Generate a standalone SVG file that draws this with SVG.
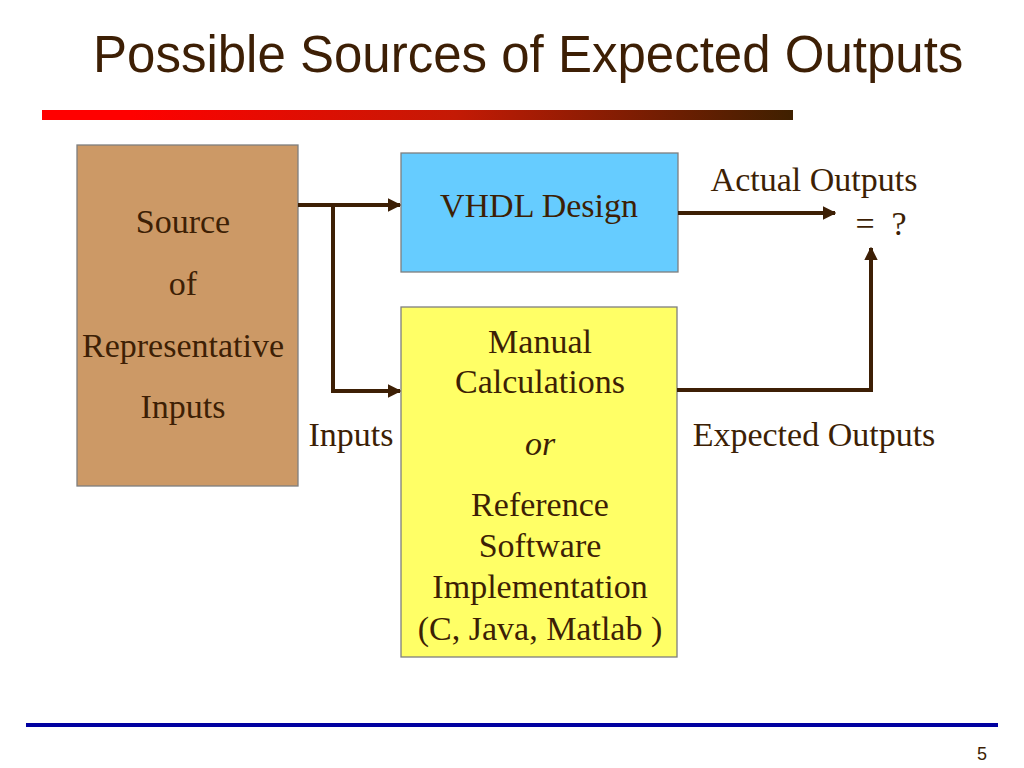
<svg xmlns="http://www.w3.org/2000/svg" width="1024" height="768" viewBox="0 0 1024 768">
<defs>
<linearGradient id="bar" x1="0" y1="0" x2="1" y2="0">
<stop offset="0" stop-color="#ff0000"/>
<stop offset="0.12" stop-color="#ff0000"/>
<stop offset="0.55" stop-color="#c41a05"/>
<stop offset="1" stop-color="#3f2000"/>
</linearGradient>
<marker id="ah" viewBox="0 0 10 10" refX="9" refY="5" markerWidth="3.4" markerHeight="3.4" orient="auto" markerUnits="strokeWidth">
<path d="M0,0 L10,5 L0,10 z" fill="#3d1f05"/>
</marker>
<style>
.t{font-family:"Liberation Serif","Times New Roman",serif;font-size:34px;fill:#3d1f05;text-anchor:middle}
.box{stroke:#7f7f7f;stroke-width:1.3}
.c{fill:none;stroke:#3d1f05;stroke-width:4}
</style>
</defs>
<rect width="1024" height="768" fill="#ffffff"/>
<text x="93" y="72" style="font-family:'Liberation Sans',Arial,sans-serif;font-size:51px;fill:#3d1f05">Possible Sources of Expected Outputs</text>
<rect x="42" y="110" width="751" height="10" fill="url(#bar)"/>
<rect x="26" y="723" width="972" height="4" fill="#0000a0"/>
<text x="987" y="760" style="font-family:'Liberation Sans',Arial,sans-serif;font-size:18px;fill:#3d1f05;text-anchor:end">5</text>

<g id="source">
<rect class="box" x="77" y="145" width="221" height="341" fill="#cc9966"/>
<text class="t" x="183" y="233">Source</text>
<text class="t" x="183" y="295">of</text>
<text class="t" x="183" y="357">Representative</text>
<text class="t" x="183" y="418">Inputs</text>
</g>
<g id="vhdl">
<rect class="box" x="401" y="153" width="277" height="119" fill="#66ccff"/>
<text class="t" x="539" y="217">VHDL Design</text>
</g>
<g id="reference">
<rect class="box" x="401" y="307" width="276" height="350" fill="#ffff66"/>
<text class="t" x="540" y="353">Manual</text>
<text class="t" x="540" y="393">Calculations</text>
<text class="t" x="540" y="455" font-style="italic">or</text>
<text class="t" x="540" y="516">Reference</text>
<text class="t" x="540" y="557">Software</text>
<text class="t" x="540" y="598">Implementation</text>
<text class="t" x="540" y="640">(C, Java, Matlab )</text>
</g>
<g id="compare">
<text class="t" x="814" y="191">Actual Outputs</text>
<text class="t" x="865" y="235">=</text>
<text class="t" x="899" y="235">?</text>
</g>
<g id="connectors">
<polyline class="c" points="298,205 400,205" marker-end="url(#ah)"/>
<polyline class="c" points="333,205 333,391 400,391" marker-end="url(#ah)"/>
<polyline class="c" points="678,213 835,213" marker-end="url(#ah)"/>
<polyline class="c" points="677,390 871,390 871,248" marker-end="url(#ah)"/>
</g>
<g id="labels">
<text class="t" x="351" y="446">Inputs</text>
<text class="t" x="814" y="446">Expected Outputs</text>
</g>
</svg>
